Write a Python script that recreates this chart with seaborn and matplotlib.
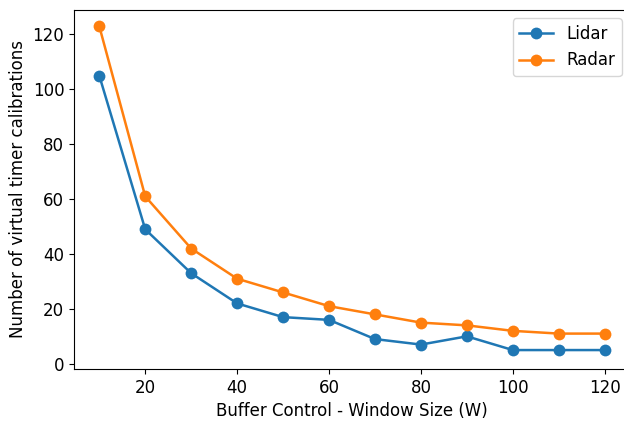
import matplotlib
matplotlib.use("Agg")
import matplotlib.pyplot as plt
import seaborn as sns
import pandas as pd

window = [10, 20, 30, 40, 50, 60, 70, 80, 90, 100, 110, 120]
lidar = [105, 49, 33, 22, 17, 16, 9, 7, 10, 5, 5, 5]
radar = [123, 61, 42, 31, 26, 21, 18, 15, 14, 12, 11, 11]
series = ["Lidar", "Radar"]

df = pd.DataFrame({
    "W": window * 2,
    "val": lidar + radar,
    "sensor": [series[0]] * len(window) + [series[1]] * len(window),
})

plt.rcParams['font.family'] = ['DejaVu Sans']
plt.rcParams['font.size'] = 12

fig = plt.figure(figsize=(6.24, 4.21), dpi=100)
ax = fig.add_axes([74/624, (421-369)/421, 556/624, 359/421])

sns.lineplot(data=df, x="W", y="val", hue="sensor", marker="o",
             palette=["#1f77b4", "#ff7f0e"], linewidth=1.8, markersize=8.5,
             markeredgewidth=0, ax=ax)

ax.set_xlabel("Buffer Control - Window Size (W)")
ax.set_ylabel("Number of virtual timer calibrations")
ax.set_xticks([20, 40, 60, 80, 100, 120])
ax.set_yticks([0, 20, 40, 60, 80, 100, 120])
ax.set_xlim(4.5, 125.5)
ax.set_ylim(-1.9, 128.9)
leg = ax.legend(loc="upper right", title=None)

fig.savefig("out.png", dpi=100)
